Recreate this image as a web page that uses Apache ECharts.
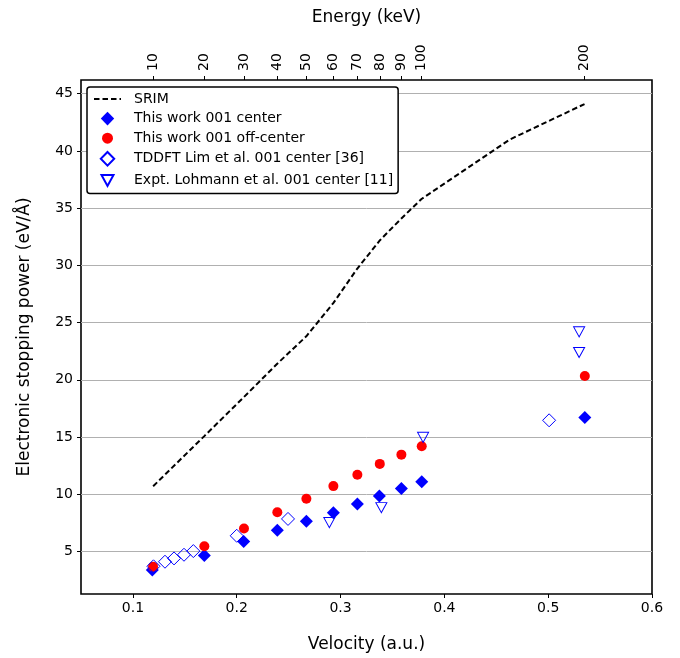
<!DOCTYPE html>
<html>
<head>
<meta charset="utf-8">
<script src="https://cdn.jsdelivr.net/npm/echarts@6/dist/echarts.min.js"></script>
<style>
html,body{margin:0;padding:0;background:#fff;}
#chart{width:680px;height:658px;}
</style>
</head>
<body>
<div id="chart"></div>
<script>
// ---- data ----
var srimV = [0.1195, 0.169, 0.207, 0.239, 0.267, 0.293, 0.316, 0.338, 0.3586, 0.378, 0.463, 0.535];
var srimS = [10.7, 15.1, 18.5, 21.4, 23.8, 26.7, 29.7, 32.2, 34.1, 35.8, 41.0, 44.1];

var centerV = [0.1187, 0.1688, 0.2067, 0.2391, 0.2671, 0.2931, 0.3162, 0.3374, 0.3586, 0.3782, 0.5353];
var centerS = [3.37, 4.65, 5.87, 6.85, 7.63, 8.39, 9.15, 9.85, 10.5, 11.09, 16.71];

var offV = [0.1194, 0.1688, 0.207, 0.2391, 0.2671, 0.2931, 0.3162, 0.3378, 0.3586, 0.3782, 0.5353];
var offS = [3.67, 5.46, 7.0, 8.42, 9.61, 10.71, 11.70, 12.65, 13.46, 14.19, 20.33];

var limV = [0.1198, 0.1309, 0.1396, 0.1492, 0.1582, 0.2, 0.2494, 0.5009];
var limS = [3.7, 4.10, 4.39, 4.71, 5.03, 6.37, 7.84, 16.46];

var lohV = [0.2892, 0.3393, 0.3795, 0.5298, 0.5298];
var lohS = [7.52, 8.83, 14.97, 22.39, 24.19];

var velTicks = [0.1, 0.2, 0.3, 0.4, 0.5, 0.6];
var stopTicks = [5, 10, 15, 20, 25, 30, 35, 40, 45];
var energyTicks = [10, 20, 30, 40, 50, 60, 70, 80, 90, 100, 200];
var vPerSqrtKeV = 0.0378; // velocity (a.u.) per sqrt(keV) for the top axis

var seriesNames = ['SRIM', 'This work 001 center', 'This work 001 off-center',
  'TDDFT Lim et al. 001 center [36]', 'Expt. Lohmann et al. 001 center [11]'];

function pairs(xs, ys) { return xs.map(function (x, i) { return [x, ys[i]]; }); }
var energyPos = energyTicks.map(function (e) { return vPerSqrtKeV * Math.sqrt(e); });

// legend icons drawn inside a 27x14 box (the leading moves fix the box)
var BOX = 'M0 0 M27 14 ';
var iconDiamond = 'path://' + BOX + 'M13.5 0.2 L20.2 7 L13.5 13.8 L6.8 7 Z';
var iconCircle = 'path://' + BOX + 'M8 7 A5.5 5.5 0 1 1 19 7 A5.5 5.5 0 1 1 8 7 Z';
var iconTriDown = 'path://' + BOX + 'M7.5 1.5 L19.5 1.5 L13.5 12.5 Z';

var FONT = 'DejaVu Sans';
var chart = echarts.init(document.getElementById('chart'), null, {renderer: 'canvas'});
chart.setOption({
  animation: false,
  backgroundColor: '#fff',
  textStyle: {fontFamily: FONT, color: '#000'},
  grid: {left: 81, right: 28, top: 80, bottom: 61.5, show: true, borderColor: '#000', borderWidth: 1.6, backgroundColor: 'transparent'},
  legend: {
    orient: 'vertical', left: 87, top: 87,
    backgroundColor: '#fff', borderColor: '#000', borderWidth: 1.5, borderRadius: 3,
    padding: [5, 5, 5, 6], itemGap: 5.6, itemWidth: 27, itemHeight: 14,
    symbolRotate: 0,
    textStyle: {fontFamily: FONT, fontSize: 14, color: '#000', padding: [0, 0, 0, 8]},
    data: [
      {name: seriesNames[0], itemStyle: {color: 'rgba(0,0,0,0)', borderColor: 'rgba(0,0,0,0)', borderWidth: 0, opacity: 0}},
      {name: seriesNames[1], icon: iconDiamond},
      {name: seriesNames[2], icon: iconCircle},
      {name: seriesNames[3], icon: iconDiamond},
      {name: seriesNames[4], icon: iconTriDown, symbolRotate: 0}
    ]
  },
  xAxis: [{
    type: 'value', min: 0.05, max: 0.6, position: 'bottom',
    name: 'Velocity (a.u.)', nameLocation: 'middle', nameGap: 42,
    nameTextStyle: {fontFamily: FONT, fontSize: 17, color: '#000'},
    axisLine: {show: false},
    axisTick: {show: true, length: 4, lineStyle: {color: '#000', width: 1}, customValues: velTicks},
    axisLabel: {customValues: velTicks, fontFamily: FONT, fontSize: 14, color: '#000', margin: 7,
      formatter: function (v) { return v.toFixed(1); }},
    splitLine: {show: false}
  }, {
    type: 'value', min: 0.05, max: 0.6, position: 'top',
    name: 'Energy (keV)', nameLocation: 'middle', nameGap: 54,
    nameTextStyle: {fontFamily: FONT, fontSize: 17, color: '#000'},
    axisLine: {show: false},
    axisTick: {show: true, length: 4, lineStyle: {color: '#000', width: 1}, customValues: energyPos},
    axisLabel: {customValues: energyPos, rotate: -90, fontFamily: FONT, fontSize: 14, color: '#000', margin: 9,
      formatter: function (v) { return String(Math.round(Math.pow(v / vPerSqrtKeV, 2))); }},
    splitLine: {show: false}
  }],
  yAxis: {
    type: 'value', min: 1.28, max: 46.2, splitNumber: 9,
    name: 'Electronic stopping power (eV/Å)', nameLocation: 'middle', nameGap: 48,
    nameTextStyle: {fontFamily: FONT, fontSize: 17, color: '#000'},
    axisLine: {show: false},
    axisTick: {show: true, length: 4, lineStyle: {color: '#000', width: 1}, customValues: stopTicks},
    axisLabel: {customValues: stopTicks, fontFamily: FONT, fontSize: 14, color: '#000', margin: 8},
    splitLine: {show: true, lineStyle: {color: '#b0b0b0', width: 1}}
  },
  series: [{
    name: seriesNames[0], type: 'line', data: pairs(srimV, srimS), symbol: 'none',
    lineStyle: {color: '#000', width: 2, type: [5.5, 3]}, itemStyle: {color: '#000'}, z: 3
  }, {
    name: seriesNames[1], type: 'scatter', data: pairs(centerV, centerS),
    symbol: 'diamond', symbolSize: 13, itemStyle: {color: '#0000ff', opacity: 1}, z: 4
  }, {
    name: seriesNames[2], type: 'scatter', data: pairs(offV, offS),
    symbol: 'circle', symbolSize: 10, itemStyle: {color: '#ff0000', opacity: 1}, z: 5
  }, {
    name: seriesNames[3], type: 'scatter', data: pairs(limV, limS),
    symbol: 'diamond', symbolSize: 13,
    itemStyle: {color: 'rgba(255,255,255,0)', borderColor: '#0000ff', borderWidth: 1, opacity: 1}, z: 6
  }, {
    name: seriesNames[4], type: 'scatter', data: pairs(lohV, lohS),
    symbol: 'triangle', symbolRotate: 180, symbolSize: [11, 10],
    itemStyle: {color: 'rgba(255,255,255,0)', borderColor: '#0000ff', borderWidth: 1, opacity: 1}, z: 7
  }]
});
</script>
</body>
</html>
